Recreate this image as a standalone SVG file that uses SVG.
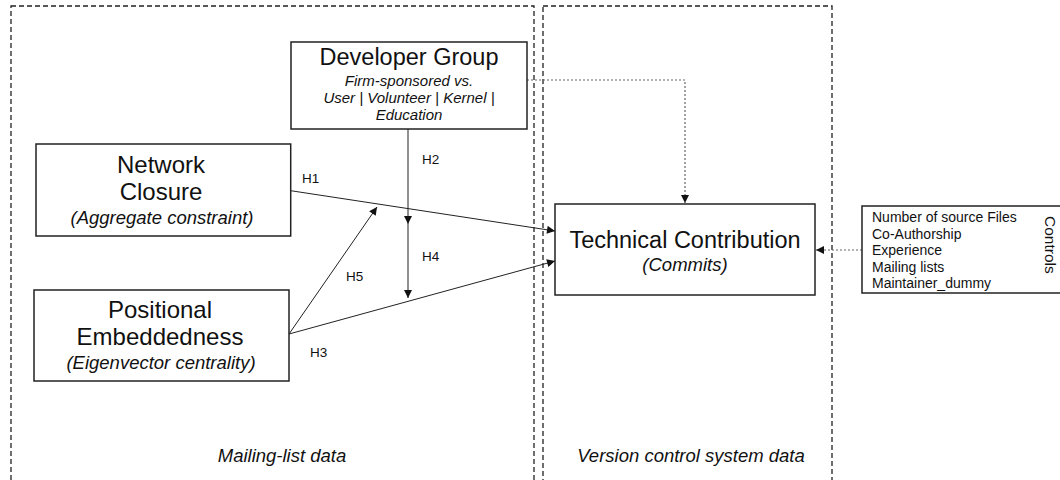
<svg xmlns="http://www.w3.org/2000/svg" width="1060" height="480" viewBox="0 0 1060 480">
<style>
text{font-family:"Liberation Sans",Arial,sans-serif;fill:#111}
.title{font-size:23.5px;text-anchor:middle}
.big{font-size:24px;text-anchor:middle}
.sub{font-size:18.5px;font-style:italic;text-anchor:middle}
.sub2{font-size:15px;font-style:italic;text-anchor:middle}
.lbl{font-size:13.5px}
.ctl{font-size:14px}
.rot{font-size:15.5px}
.region{fill:none;stroke:#222;stroke-width:1.3;stroke-dasharray:5 3}
.box{fill:#fff;stroke:#222;stroke-width:1.5}
.conn{fill:none;stroke:#222;stroke-width:1}
.dot{fill:none;stroke:#666;stroke-width:1.2;stroke-dasharray:2 2}
</style>
<defs>
<marker id="arr" viewBox="0 0 10 10" refX="10" refY="5" markerWidth="10" markerHeight="8" markerUnits="userSpaceOnUse" orient="auto">
<path d="M0,0 L10,5 L0,10 z" fill="#111"/>
</marker>
</defs>
<g id="regions">
<rect class="region" x="11" y="6" width="523" height="490"/>
<rect class="region" x="543" y="6" width="289" height="490"/>
<text x="282" y="462" class="sub">Mailing-list data</text>
<text x="691" y="462" class="sub">Version control system data</text>
</g>
<g id="connectors">
<path class="conn" d="M290.7,190.7 L555,231" marker-end="url(#arr)"/>
<path class="conn" d="M289,334 L555,261" marker-end="url(#arr)"/>
<path class="conn" d="M289,334 L377,207" marker-end="url(#arr)"/>
<path class="conn" d="M408,129 L408,224" marker-end="url(#arr)"/>
<path class="conn" d="M408,224 L408,298" stroke="#888" marker-end="url(#arr)"/>
<path class="dot" d="M527,80 H685 V203" marker-end="url(#arr)"/>
<path class="dot" d="M862,250 H816" marker-end="url(#arr)"/>
<text x="302" y="183" class="lbl">H1</text>
<text x="422" y="164" class="lbl">H2</text>
<text x="310" y="357" class="lbl">H3</text>
<text x="422" y="261" class="lbl">H4</text>
<text x="346" y="281" class="lbl">H5</text>
</g>
<g id="developer-group">
<rect class="box" x="291" y="42" width="236" height="87"/>
<text x="409" y="65" class="title">Developer Group</text>
<text x="409" y="86" class="sub2">Firm-sponsored vs.</text>
<text x="409" y="103" class="sub2">User | Volunteer | Kernel |</text>
<text x="409" y="120" class="sub2">Education</text>
</g>
<g id="network-closure">
<rect class="box" x="36" y="144" width="254.7" height="92"/>
<text x="161" y="173" class="big">Network</text>
<text x="161" y="200" class="big">Closure</text>
<text x="162" y="224" class="sub">(Aggregate constraint)</text>
</g>
<g id="positional-embeddedness">
<rect class="box" x="34" y="290" width="255" height="91"/>
<text x="160" y="318" class="big">Positional</text>
<text x="160" y="345" class="big">Embeddedness</text>
<text x="161" y="369" class="sub">(Eigenvector centrality)</text>
</g>
<g id="technical-contribution">
<rect class="box" x="555" y="204" width="260" height="91"/>
<text x="685" y="248" class="title">Technical Contribution</text>
<text x="685" y="271" class="sub">(Commits)</text>
</g>
<g id="controls">
<rect class="box" x="862" y="206" width="200" height="87"/>
<text x="872" y="222" class="ctl">Number of source Files</text>
<text x="872" y="238.5" class="ctl">Co-Authorship</text>
<text x="872" y="255" class="ctl">Experience</text>
<text x="872" y="272" class="ctl">Mailing lists</text>
<text x="872" y="288" class="ctl">Maintainer_dummy</text>
<text x="1045" y="216" class="rot" transform="rotate(90 1045 216)">Controls</text>
</g>
</svg>
